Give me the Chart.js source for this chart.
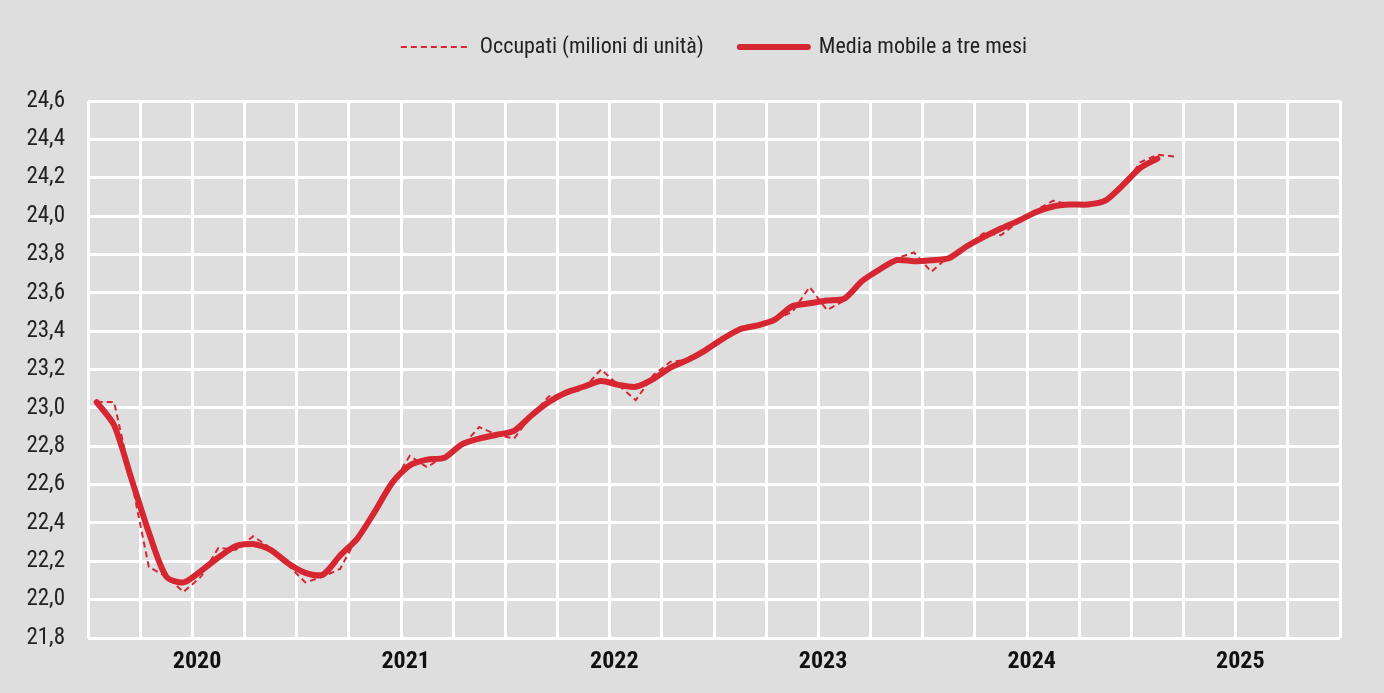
<!DOCTYPE html>
<html>
<head>
<meta charset="utf-8">
<script src="https://cdn.jsdelivr.net/npm/chart.js@4.4.1/dist/chart.umd.min.js"></script>
<style>
  html, body { margin: 0; padding: 0; background: #dedede; }
  canvas { display: block; }
</style>
</head>
<body>
<canvas id="occupati" width="1384" height="693"></canvas>
<script>
// mesi da gennaio 2020 a dicembre 2025
const years = ['2020', '2021', '2022', '2023', '2024', '2025'];
const months = ['gen', 'feb', 'mar', 'apr', 'mag', 'giu', 'lug', 'ago', 'set', 'ott', 'nov', 'dic'];
const categories = years.flatMap(y => months.map(m => m + ' ' + y));

// occupati mensili (milioni), gen 2020 - mar 2025
const occupati = [
    23.03, 23.03, 22.62, 22.17, 22.12, 22.04, 22.12, 22.27, 22.26, 22.33, 22.27, 22.18,
    22.09, 22.12, 22.16, 22.33, 22.46, 22.60, 22.75, 22.69, 22.75, 22.80, 22.90, 22.86,
    22.84, 22.96, 23.06, 23.07, 23.10, 23.20, 23.12, 23.04, 23.17, 23.24, 23.25, 23.30,
    23.37, 23.41, 23.43, 23.46, 23.50, 23.63, 23.51, 23.56, 23.66, 23.72, 23.78, 23.81,
    23.71, 23.79, 23.84, 23.91, 23.90, 23.97, 24.03, 24.08, 24.06, 24.05, 24.08, 24.15,
    24.28, 24.32, 24.31
];

// media mobile a tre mesi (centrata), gen 2020 - feb 2025
const mediaMobile = [
    23.03, 22.91, 22.63, 22.35, 22.12, 22.09, 22.15, 22.22, 22.28, 22.29, 22.26, 22.19,
    22.14, 22.13, 22.23, 22.32, 22.46, 22.61, 22.70, 22.73, 22.74, 22.81, 22.84, 22.86,
    22.88, 22.96, 23.03, 23.08, 23.11, 23.14, 23.12, 23.11, 23.15, 23.21, 23.25, 23.30,
    23.36, 23.41, 23.43, 23.46, 23.53, 23.545, 23.56, 23.57, 23.66, 23.72, 23.77, 23.765,
    23.77, 23.78, 23.84, 23.89, 23.935, 23.975, 24.02, 24.05, 24.06, 24.06, 24.08, 24.16,
    24.25, 24.30
];

const red = 'rgb(214,38,49)';
const narrow = "'Liberation Sans Narrow', 'Roboto Condensed', 'DejaVu Sans Condensed', sans-serif";

new Chart(document.getElementById('occupati'), {
    type: 'line',
    data: {
        labels: categories,
        datasets: [{
            label: 'Occupati (milioni di unità)',
            data: occupati,
            borderColor: red,
            backgroundColor: red,
            borderWidth: 2,
            borderDash: [6, 4],
            pointRadius: 0,
            tension: 0,
            order: 1
        }, {
            label: 'Media mobile a tre mesi',
            data: mediaMobile,
            borderColor: red,
            backgroundColor: red,
            borderWidth: 6,
            borderCapStyle: 'round',
            borderJoinStyle: 'round',
            pointRadius: 0,
            tension: 0.25,
            order: 0
        }]
    },
    options: {
        responsive: false,
        animation: false,
        layout: { padding: { top: 0, right: 44, bottom: 0, left: 0 } },
        plugins: {
            tooltip: { enabled: false },
            legend: {
                position: 'top',
                fullSize: false,
                labels: {
                    usePointStyle: true,
                    pointStyle: 'line',
                    pointStyleWidth: 68,
                    padding: 36,
                    color: '#222',
                    font: { family: narrow, size: 22 },
                    sort: (a, b) => a.datasetIndex - b.datasetIndex,
                    generateLabels: chart => {
                        const items = Chart.defaults.plugins.legend.labels.generateLabels(chart);
                        items.forEach(it => {
                            const ds = chart.data.datasets[it.datasetIndex];
                            it.lineDash = ds.borderDash || [];
                            it.lineWidth = ds.borderWidth;
                            it.lineCap = ds.borderCapStyle || 'butt';
                        });
                        return items;
                    }
                }
            },
            // spazio vuoto tra legenda e grafico
            subtitle: {
                display: true,
                text: '',
                weight: 500,
                padding: 0,
                font: { size: 33, lineHeight: 1 }
            }
        },
        scales: {
            x: {
                offset: true,
                grid: {
                    offset: true,
                    drawTicks: false,
                    lineWidth: 3,
                    color: c => (c.index === undefined || c.index % 3 === 0) ? '#fff' : 'rgba(0,0,0,0)'
                },
                border: { display: false },
                ticks: {
                    autoSkip: false,
                    maxRotation: 0,
                    minRotation: 0,
                    padding: 10,
                    labelOffset: -4,
                    color: '#111',
                    font: { family: narrow, size: 24, weight: 'bold', lineHeight: 1.2 },
                    callback: (v, i) => i % 12 === 6 ? categories[i].split(' ')[1] : ''
                },
                afterFit: s => { s.height = 55; }
            },
            y: {
                min: 21.8,
                max: 24.6,
                grid: { color: '#fff', lineWidth: 3, drawTicks: false },
                border: { display: false },
                ticks: {
                    stepSize: 0.2,
                    padding: 23,
                    color: '#222',
                    font: { family: narrow, size: 23 },
                    callback: v => v.toFixed(1).replace('.', ',')
                },
                afterFit: s => { s.width = 88; }
            }
        }
    }
});
</script>
</body>
</html>
